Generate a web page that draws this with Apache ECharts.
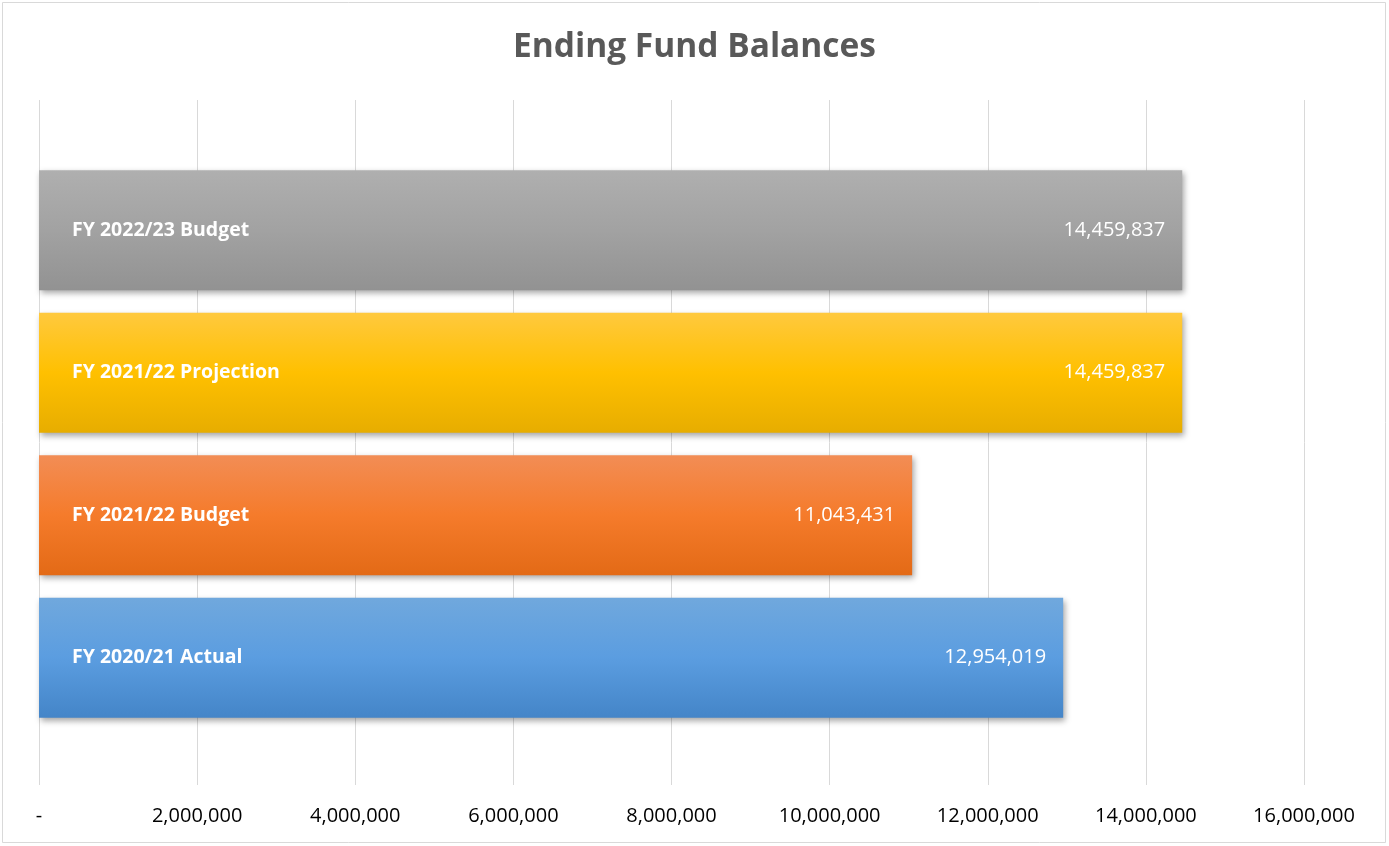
<!DOCTYPE html>
<html>
<head>
<meta charset="utf-8">
<script src="https://cdn.jsdelivr.net/npm/echarts@6/dist/echarts.min.js"></script>
<style>
html,body{margin:0;padding:0;background:#fff;}
#chart{width:1389px;height:846px;}
</style>
</head>
<body>
<div id="chart"></div>
<script>
// Data (bottom to top as drawn on the category axis)
const categories = ['FY 2020/21 Actual', 'FY 2021/22 Budget', 'FY 2021/22 Projection', 'FY 2022/23 Budget'];
const values = [12954019, 11043431, 14459837, 14459837];
const xTicks = [0, 2000000, 4000000, 6000000, 8000000, 10000000, 12000000, 14000000, 16000000];
const titleText = 'Ending Fund Balances';

const gradients = [
  ['#70a8dd', '#5b9de0', '#4485c8'],
  ['#f28d55', '#f57b2b', '#e36a16'],
  ['#ffc93e', '#ffc000', '#e7ad00'],
  ['#afafaf', '#a2a2a2', '#929292']
];
function grad(c) {
  return new echarts.graphic.LinearGradient(0, 0, 0, 1, [
    {offset: 0, color: c[0]}, {offset: 0.5, color: c[1]}, {offset: 1, color: c[2]}
  ]);
}
const fmt = v => v === 0 ? '-' : Math.round(v).toLocaleString('en-US');
const FONT = 'Open Sans';

const chart = echarts.init(document.getElementById('chart'), null, {renderer: 'canvas'});
chart.setOption({
  backgroundColor: '#fff',
  animation: false,
  title: {
    text: titleText, left: 'center', top: 25,
    textStyle: {fontFamily: FONT, fontWeight: 'bold', fontSize: 33.5, color: '#595959'}
  },
  graphic: [{
    type: 'rect', shape: {x: 2.5, y: 2.5, width: 1383, height: 840},
    style: {fill: 'none', stroke: '#d9d9d9', lineWidth: 1}, silent: true, z: -10
  }],
  grid: [
    {left: 39, right: 85, top: 100, bottom: 61},
    {left: 39, right: 85, top: 159, bottom: 846 - 729}
  ],
  xAxis: [{
    gridIndex: 0, type: 'value', min: xTicks[0], max: xTicks[xTicks.length - 1], interval: 2000000,
    axisLine: {show: false}, axisTick: {show: false},
    splitLine: {show: true, lineStyle: {color: '#d9d9d9', width: 1}},
    axisLabel: {formatter: fmt, fontFamily: FONT, fontSize: 20, color: '#000', margin: 21}
  }, {
    gridIndex: 1, type: 'value', min: xTicks[0], max: xTicks[xTicks.length - 1],
    show: false
  }],
  yAxis: [{
    gridIndex: 0, type: 'category', data: [''], show: false
  }, {
    gridIndex: 1, type: 'category', data: categories, show: false
  }],
  series: [{
    type: 'bar', xAxisIndex: 1, yAxisIndex: 1, barWidth: 120,
    data: values.map((v, i) => ({value: v, itemStyle: {color: grad(gradients[i])}})),
    itemStyle: {shadowColor: 'rgba(0,0,0,0.35)', shadowBlur: 6, shadowOffsetX: 2, shadowOffsetY: 3},
    label: {
      show: true, position: 'insideRight', distance: 17,
      formatter: p => fmt(p.value),
      fontFamily: FONT, fontSize: 20, color: '#fff'
    },
    z: 2
  }, {
    type: 'bar', xAxisIndex: 1, yAxisIndex: 1, barWidth: 120, barGap: '-100%',
    data: values,
    itemStyle: {color: 'rgba(0,0,0,0)'},
    label: {
      show: true, position: 'insideLeft', distance: 33,
      formatter: p => p.name,
      fontFamily: FONT, fontWeight: 'bold', fontSize: 19.5, color: '#fff'
    },
    z: 3
  }]
});
</script>
</body>
</html>
